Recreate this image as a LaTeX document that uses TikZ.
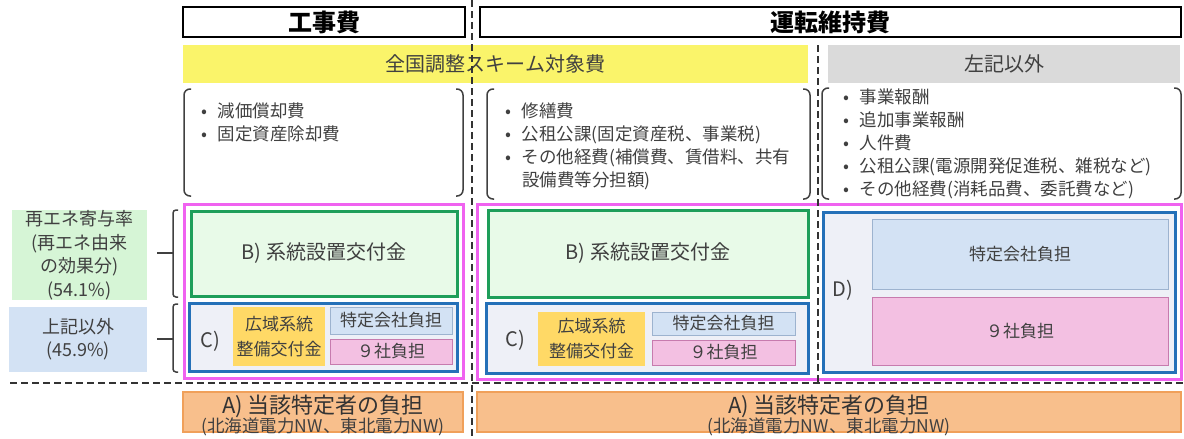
\documentclass[tikz,border=0pt]{standalone}
\usepackage{fontspec}
\setmainfont{Noto Sans CJK JP}
\definecolor{txt}{HTML}{404040}
\definecolor{ylw}{HTML}{FAF46A}
\definecolor{gry}{HTML}{DADADA}
\definecolor{pnk}{HTML}{F062F0}
\definecolor{grnB}{HTML}{1E9E5A}
\definecolor{grnF}{HTML}{E8FAE8}
\definecolor{bluB}{HTML}{2470B8}
\definecolor{bluF}{HTML}{EEF0F7}
\definecolor{gold}{HTML}{FFD966}
\definecolor{ltb}{HTML}{D3E2F4}
\definecolor{ltbB}{HTML}{9DB3CF}
\definecolor{pkF}{HTML}{F3C0E2}
\definecolor{pkB}{HTML}{C77BAE}
\definecolor{lgr}{HTML}{D6F5D6}
\definecolor{ora}{HTML}{F8BF8C}
\definecolor{oraB}{HTML}{F0A05A}
\definecolor{dsh}{HTML}{333333}
\begin{document}
\begin{tikzpicture}[x=1pt,y=-1pt,
  every node/.style={inner sep=0pt, outer sep=0pt, text=txt},
  hdr/.style={draw=black, line width=2.5pt, fill=white, text=black, font=\fontsize{24}{28}\selectfont\bfseries},
  band/.style={font=\fontsize{20}{24}\selectfont},
  pinkbox/.style={draw=pnk, line width=3pt},
  bbox/.style={draw=grnB, line width=3pt, fill=grnF, font=\fontsize{20}{24}\selectfont},
  cbox/.style={draw=bluB, line width=3pt, fill=bluF},
  goldbox/.style={fill=gold, align=center, font=\fontsize{17}{25}\selectfont},
  tokbox/.style={fill=ltb, draw=ltbB, line width=0.8pt, font=\fontsize{17}{20}\selectfont},
  ninebox/.style={fill=pkF, draw=pkB, line width=0.8pt, font=\fontsize{17}{20}\selectfont},
  lettr/.style={font=\fontsize{20}{24}\selectfont},
  sidelbl/.style={align=center, font=\fontsize{18}{23.5}\selectfont},
  abox/.style={fill=ora, draw=oraB, line width=1.2pt},
  atitle/.style={font=\fontsize{22}{24}\selectfont, text=black!80},
  asub/.style={font=\fontsize{17.5}{20}\selectfont},
  itemlist/.style={align=left, anchor=north west, font=\fontsize{17.5}{23}\selectfont},
  brk/.style={draw=txt, line width=1.5pt, rounded corners=6pt},
  sidebrk/.style={draw=txt, line width=1.5pt, rounded corners=3pt},
  dline/.style={draw=dsh, line width=2pt, dash pattern=on 7pt off 4pt}
]
\useasboundingbox (0,0) rectangle (1184,439);
\newcommand{\bul}{\llap{•\hspace{11pt}}}
% headers
\node[hdr, minimum width=282, minimum height=30] (h1) at (324,22) {工事費};
\node[hdr, minimum width=701, minimum height=30] (h2) at (830.5,22) {運転維持費};
% bands
\node[band, fill=ylw, minimum width=625, minimum height=38] (yb) at (495.5,64) {全国調整スキーム対象費};
\node[band, fill=gry, minimum width=352, minimum height=38] (gb) at (1004,64) {左記以外};
% bracket lists
\draw[brk] (191,89) -- (184,89) -- (184,196) -- (191,196);
\draw[brk] (456,89) -- (463,89) -- (463,196) -- (456,196);
\draw[brk] (494,89) -- (487,89) -- (487,199) -- (494,199);
\draw[brk] (803,89) -- (810,89) -- (810,199) -- (803,199);
\draw[brk] (829,88) -- (822,88) -- (822,199) -- (829,199);
\draw[brk] (1174,88) -- (1181,88) -- (1181,199) -- (1174,199);
\node[itemlist] (l1) at (218,103) {\bul 減価償却費\\ \bul 固定資産除却費};
\node[itemlist] (l2) at (522,103) {\bul 修繕費\\ \bul 公租公課(固定資産税、事業税)\\ \bul その他経費(補償費、賃借料、共有\\ 設備費等分担額)};
\node[itemlist] (l3) at (860,89) {\bul 事業報酬\\ \bul 追加事業報酬\\ \bul 人件費\\ \bul 公租公課(電源開発促進税、雑税など)\\ \bul その他経費(消耗品費、委託費など)};
% pink outer boxes
\node[pinkbox, minimum width=279, minimum height=174] (p1) at (323.5,291) {};
\node[pinkbox, minimum width=704, minimum height=175] (p2) at (829,291.5) {};
% left column
\node[bbox, minimum width=266, minimum height=85] (b1) at (324,253.5) {B) 系統設置交付金};
\node[cbox, minimum width=268, minimum height=68] (c1) at (323,337) {};
\node[lettr] (c1l) at (210,341) {C)};
\node[goldbox, minimum width=92, minimum height=59] (g1) at (279,336.5) {広域系統\\整備交付金};
\node[tokbox, minimum width=122, minimum height=27] (t1) at (391,320.5) {特定会社負担};
\node[ninebox, minimum width=122, minimum height=25] (n1) at (391,351.5) {９社負担};
% middle column
\node[bbox, minimum width=320, minimum height=87] (b2) at (648,253.5) {B) 系統設置交付金};
\node[cbox, minimum width=322, minimum height=70] (c2) at (647,338) {};
\node[lettr] (c2l) at (515,340) {C)};
\node[goldbox, minimum width=107, minimum height=54] (g2) at (591.5,339) {広域系統\\整備交付金};
\node[tokbox, minimum width=143, minimum height=23] (t2) at (723.5,323.5) {特定会社負担};
\node[ninebox, minimum width=143, minimum height=25] (n2) at (723.5,352.5) {９社負担};
% right column
\node[cbox, minimum width=352, minimum height=160] (d3) at (999,292) {};
\node[lettr] (d3l) at (843,290) {D)};
\node[tokbox, minimum width=296, minimum height=70] (t3) at (1020,254) {特定会社負担};
\node[ninebox, minimum width=296, minimum height=68] (n3) at (1020,331) {９社負担};
% side labels
\node[sidelbl, fill=lgr, minimum width=135, minimum height=90] (sg) at (79.5,255) {再エネ寄与率\\(再エネ由来\\の効果分)\\(54.1\%)};
\node[sidelbl, fill=ltb, minimum width=138, minimum height=65] (sb) at (78,339) {上記以外\\(45.9\%)};
\draw[sidebrk] (178,210) -- (173,210) -- (173,297) -- (178,297);
\draw[sidebrk] (157,253) -- (173,253);
\draw[sidebrk] (178,304) -- (173,304) -- (173,372) -- (178,372);
\draw[sidebrk] (157,339) -- (173,339);
% A boxes
\node[abox, minimum width=280, minimum height=40] (a1) at (323,412) {};
\node[abox, minimum width=704, minimum height=40] (a2) at (829,412) {};
\node[atitle] (a1t) at (323,406) {A) 当該特定者の負担};
\node[asub] (a1s) at (323,427) {(北海道電力NW、東北電力NW)};
\node[atitle] (a2t) at (829,406) {A) 当該特定者の負担};
\node[asub] (a2s) at (829,427) {(北海道電力NW、東北電力NW)};
% dashed separators
\draw[dline] (472,0) -- (472,439);
\draw[dline] (818,45) -- (818,383);
\draw[dline] (10,383) -- (1184,383);
\end{tikzpicture}
\end{document}
